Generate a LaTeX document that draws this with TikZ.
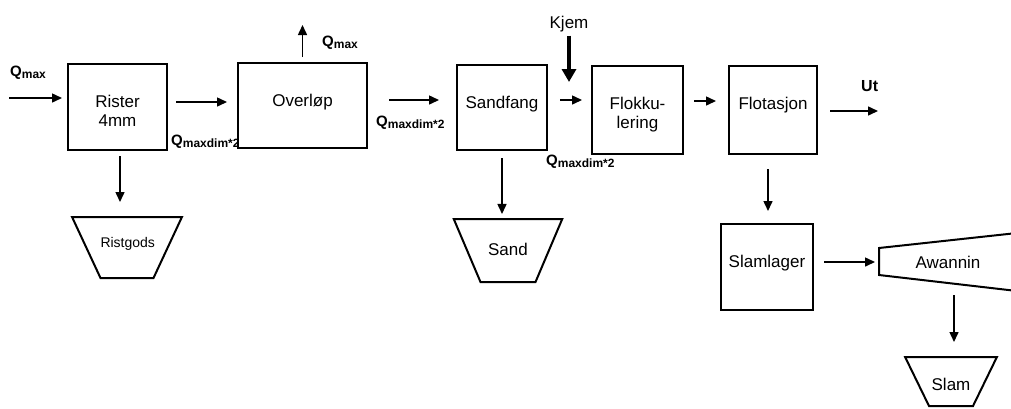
\documentclass[tikz,border=0pt]{standalone}
\usepackage{fontspec}
\setmainfont{Liberation Sans}
\usetikzlibrary{arrows.meta, positioning, shapes.geometric}

\newcommand{\fs}{\fontsize{17}{19}\selectfont}
\newcommand{\qlab}[1]{\textbf{\fontsize{15}{15}\selectfont Q\raisebox{-2pt}{\fontsize{12}{12}\selectfont #1}}}

\tikzset{
  unit/.style={draw, line width=2pt, text width=84pt, align=center, inner sep=0pt, text height=43pt, font=\fs},
  bin/.style={draw, trapezium, shape border rotate=180, line width=2pt, inner sep=0pt, align=center, font=\fs},
  flow/.style={line width=1.5pt, -{Triangle[length=10pt,width=9pt]}},
  dosing/.style={line width=4pt, -{Triangle[length=13pt,width=14pt]}},
  qlabel/.style={anchor=base west, inner sep=0pt},
}

\begin{document}
\begin{tikzpicture}[x=1pt, y=-1pt]
  \useasboundingbox (0,0) rectangle (1011,408);

  % Process line
  \node[unit, minimum width=99pt, text depth=43pt] (rister) at (117.5,107) {Rister\\4mm};
  \node[unit, minimum width=129pt, text depth=42pt] (overlop) at (302.5,105.5) {Overløp};
  \node[unit, minimum width=90pt, text depth=42pt] (sandfang) at (502,107.5) {Sandfang};
  \node[unit, minimum width=91pt, text depth=45pt] (flokk) at (637.5,110) {Flokku-\\lering};
  \node[unit, minimum width=88pt, text depth=45pt] (flotasjon) at (773,110) {Flotasjon};
  \node[unit, minimum width=92pt, text depth=43pt] (slamlager) at (767,267) {Slamlager};

  % Containers
  \node[bin, trapezium angle=65, text width=53pt, text height=30pt, text depth=31pt, font=\fontsize{14}{16}\selectfont] (ristgods) at (127,247.5) {Ristgods};
  \node[bin, trapezium angle=67, text width=55pt, text height=36pt, text depth=27pt] (sand) at (508,250.5) {Sand};
  \node[bin, trapezium angle=64, text width=44pt, text height=33pt, text depth=16pt] (slam) at (951,381.5) {Slam};

  % Dewatering, runs off the right edge
  \node[font=\fs, inner sep=0pt] (awannin) at (948,262) {Awannin};
  \coordinate (awannin-in) at (879,262);
  \draw[line width=2pt] (879,248) -- (1017,233) -- (1017,291) -- (879,275) -- cycle;

  % Flow labels
  \node[qlabel] (qin) at (10,76) {\qlab{max}};
  \node[qlabel] (qrister) at (171,145) {\qlab{maxdim*2}};
  \node[qlabel] (qoverflow) at (322,46) {\qlab{max}};
  \node[qlabel] (qoverlop) at (376,126) {\qlab{maxdim*2}};
  \node[qlabel] (qsandfang) at (546,165) {\qlab{maxdim*2}};
  \node[anchor=base, inner sep=0pt, font=\fs] (kjem) at (569,28) {Kjem};
  \node[qlabel, font=\bfseries\fontsize{16}{16}\selectfont] (ut) at (861,91) {Ut};

  \coordinate (inlet) at (9,98);
  \coordinate (overflow) at (302.5,25);
  \coordinate (dose) at (569,82);
  \coordinate (outlet) at (878,111);

  % Arrows
  \draw[flow, shorten >=5pt] (inlet) -- (inlet -| rister.west);
  \draw[flow, shorten <=8pt, shorten >=10pt] ([yshift=5pt]rister.east) -- ([yshift=5pt]rister.east -| overlop.west);
  \draw[flow, shorten <=5pt] (overlop.north) -- (overflow);
  \draw[flow, shorten <=21pt, shorten >=17pt] ([yshift=5.5pt]overlop.east) -- ([yshift=5.5pt]overlop.east -| sandfang.west);
  \draw[dosing, shorten <=4pt] (kjem.south) -- (dose);
  \draw[flow, shorten <=12pt, shorten >=9pt] ([yshift=7.5pt]sandfang.east) -- ([yshift=7.5pt]sandfang.east -| flokk.west);
  \draw[flow, shorten <=10pt, shorten >=12pt] ([yshift=9pt]flokk.east) -- ([yshift=9pt]flokk.east -| flotasjon.west);
  \draw[flow, shorten <=12pt] (outlet -| flotasjon.east) -- (outlet);
  \draw[flow, shorten <=5pt, shorten >=14pt] ([xshift=2.5pt]rister.south) -- ([xshift=2.5pt]rister.south |- ristgods.north);
  \draw[flow, shorten <=7pt, shorten >=4pt] (sandfang.south) -- (sandfang.south |- sand.north);
  \draw[flow, shorten <=14pt, shorten >=12pt] ([xshift=-5pt]flotasjon.south) -- ([xshift=-5pt]flotasjon.south |- slamlager.north);
  \draw[flow, shorten <=10pt, shorten >=4pt] ([yshift=5pt]slamlager.east) -- (awannin-in);
  \draw[flow, shorten <=33pt, shorten >=14pt] ([xshift=3pt]slam.north |- awannin) -- ([xshift=3pt]slam.north);
\end{tikzpicture}
\end{document}
